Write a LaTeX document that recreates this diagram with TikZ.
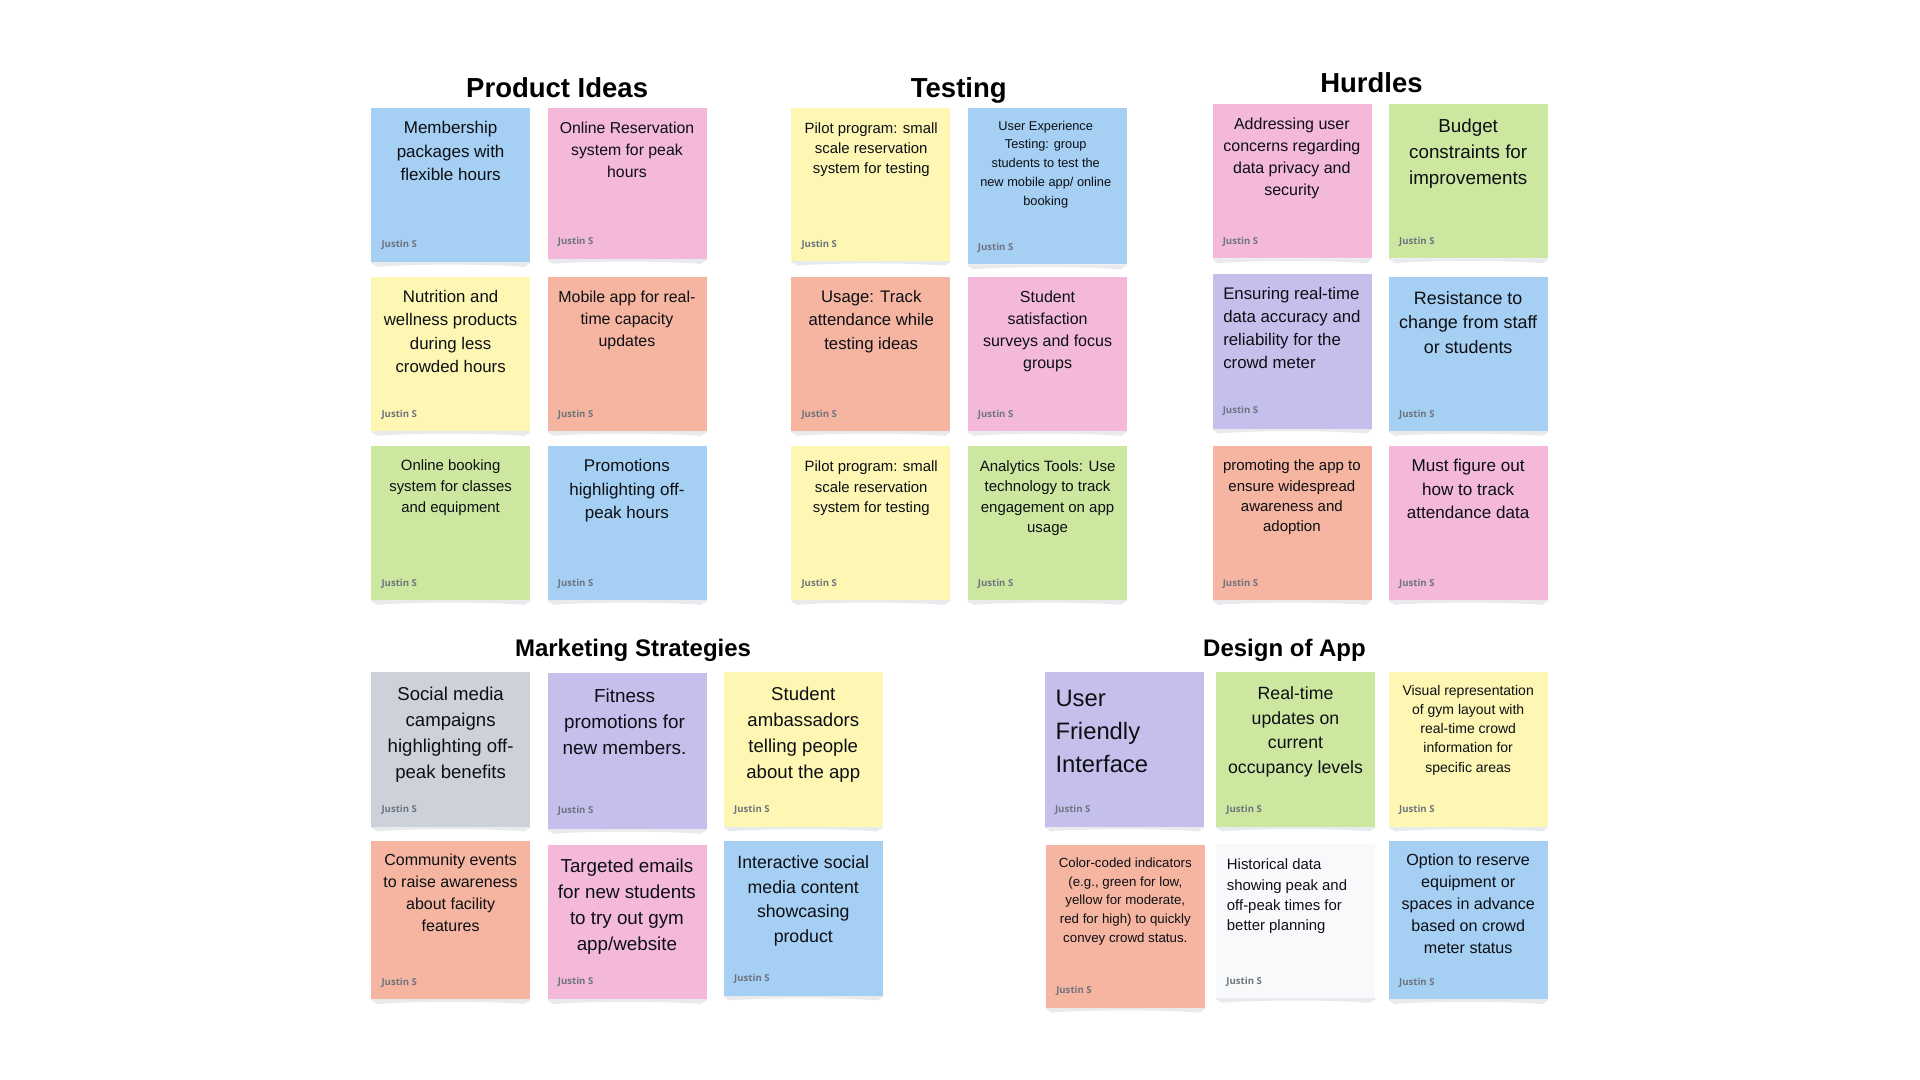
\documentclass[tikz,border=0pt]{standalone}
\usepackage{fontspec}
\setmainfont{Liberation Sans}
\newfontfamily\sigfont{Open Sans}
\definecolor{nblue}{HTML}{A5CFF3}
\definecolor{npink}{HTML}{F3B8DA}
\definecolor{nyellow}{HTML}{FEF7B3}
\definecolor{norange}{HTML}{F5B5A1}
\definecolor{ngreen}{HTML}{CCE8A0}
\definecolor{npurple}{HTML}{C5BFEC}
\definecolor{ngray}{HTML}{CDD2DA}
\definecolor{nwhite}{HTML}{F8F9FB}
\definecolor{nshadow}{HTML}{E8EAED}
\definecolor{ntext}{HTML}{0D0F14}
\definecolor{nsig}{HTML}{6E747F}
\tikzset{
  x=1.22449pt,y=-1.22449pt,
  notebody/.style={inner sep=0pt,outer sep=0pt,anchor=north west},
  notecopy/.style={inner sep=0pt,outer sep=0pt,text=ntext},
  notesig/.style={inner sep=0pt,outer sep=0pt,anchor=west,text=nsig,font=\sigfont\bfseries\fontsize{9.6}{11}\selectfont},
  heading/.style={inner sep=0pt,outer sep=0pt,text=black,font=\bfseries\fontsize{#1}{#1}\selectfont},
}
\newcommand{\linetop}{\rule{0pt}{.8em}}
\newcommand{\linebot}{\rule[-.3em]{0pt}{.3em}}
% id, x, y top, y bottom, colour, signature y
\newcommand{\notebox}[6]{%
  \fill[nshadow] (#2+.2,#4) -- (#2+130.2,#4) -- (#2+130.2,#4+1) -- (#2+125.2,#4+4)
     .. controls (#2+100,#4+1.5) and (#2+30,#4+1.5) .. (#2+5.2,#4+4) -- (#2+.2,#4+1) -- cycle;
  \pgfmathsetmacro{\nh}{(#4-(#3))*1.22449}
  \node[notebody,fill=#5,minimum width=159.18pt,minimum height=\nh pt] (#1) at (#2+.2,#3) {};
  \node[notesig] (#1-sig) at (#2+8.6,#6+.6) {Justin S};
}
% id, x, y, size, leading, text
\newcommand{\notemid}[6]{%
  \node[notecopy,align=center,font=\fontsize{#4}{#5}\selectfont] (#1-t) at (#2,#3+1.8) {\linetop#6\linebot};
}
\newcommand{\noteleft}[6]{%
  \node[notecopy,align=left,anchor=west,font=\fontsize{#4}{#5}\selectfont] (#1-t) at (#2,#3+1.8) {\linetop#6\linebot};
}
\begin{document}
\begin{tikzpicture}
\useasboundingbox (0,0) rectangle (1568,882);
\fill[white] (0,0) rectangle (1568,882);
\node[heading=27.5] (h1) at (455,72) {Product Ideas};
\node[heading=27.5] (h2) at (783,73.5) {Testing};
\node[heading=27.5] (h3) at (1120,67.7) {Hurdles};
\node[heading=24] (h4) at (517,531.5) {Marketing Strategies};
\node[heading=24] (h5) at (1049,531.5) {Design of App};

\notebox{a1}{303}{88}{214}{nblue}{199}
\notemid{a1}{368}{123}{17}{23.3}{Membership\\packages with\\flexible hours}
\notebox{a2}{447}{88}{211.5}{npink}{197}
\notemid{a2}{512}{122}{15.8}{22}{Online Reservation\\system for peak\\hours}
\notebox{a3}{303}{226}{352}{nyellow}{338}
\notemid{a3}{368}{270.5}{16.8}{23.3}{Nutrition and\\wellness products\\during less\\crowded hours}
\notebox{a4}{447}{226}{352}{norange}{338}
\notemid{a4}{512}{260}{15.9}{22}{Mobile app for real-\\time capacity\\updates}
\notebox{a5}{303}{364}{490}{ngreen}{476}
\notemid{a5}{368}{396.5}{14.9}{20.8}{Online booking\\system for classes\\and equipment}
\notebox{a6}{447}{364}{490}{nblue}{476}
\notemid{a6}{512}{399}{17}{23.3}{Promotions\\highlighting off-\\peak hours}

\notebox{b1}{646}{88}{213}{nyellow}{199}
\notemid{b1}{711.5}{120.5}{14.9}{20.3}{Pilot program: small\\scale reservation\\system for testing}
\notebox{b2}{790}{88}{216}{nblue}{202}
\notemid{b2}{854}{132.5}{12.8}{18.7}{User Experience\\Testing: group\\students to test the\\new mobile app/ online\\booking}
\notebox{b3}{646}{226}{352}{norange}{338}
\notemid{b3}{711.5}{261}{16.7}{23.3}{Usage: Track\\attendance while\\testing ideas}
\notebox{b4}{790}{226}{352}{npink}{338}
\notemid{b4}{855.5}{269}{16}{22}{Student\\satisfaction\\surveys and focus\\groups}
\notebox{b5}{646}{364}{490}{nyellow}{476}
\notemid{b5}{711.5}{397}{14.9}{20.3}{Pilot program: small\\scale reservation\\system for testing}
\notebox{b6}{790}{364}{490}{ngreen}{476}
\notemid{b6}{855.5}{405}{15}{20.3}{Analytics Tools: Use\\technology to track\\engagement on app\\usage}

\notebox{c1}{990}{85}{211}{npink}{197}
\notemid{c1}{1055}{128}{16}{22}{Addressing user\\concerns regarding\\data privacy and\\security}
\notebox{c2}{1134}{85}{211}{ngreen}{197}
\notemid{c2}{1199}{123.5}{18.8}{26}{Budget\\constraints for\\improvements}
\notebox{c3}{990}{224}{350}{npurple}{335}
\noteleft{c3}{999}{267.5}{16.8}{23.3}{Ensuring real-time\\data accuracy and\\reliability for the\\crowd meter}
\notebox{c4}{1134}{226}{352}{nblue}{338}
\notemid{c4}{1199}{263}{17.9}{24.5}{Resistance to\\change from staff\\or students}
\notebox{c5}{990}{364}{490}{norange}{476}
\notemid{c5}{1055}{404.5}{15}{20.3}{promoting the app to\\ensure widespread\\awareness and\\adoption}
\notebox{c6}{1134}{364}{490}{npink}{476}
\notemid{c6}{1199}{399}{17.1}{23.3}{Must figure out\\how to track\\attendance data}

\notebox{d1}{303}{549}{675}{ngray}{660.5}
\notemid{d1}{368}{598}{18.6}{26}{Social media\\campaigns\\highlighting off-\\peak benefits}
\notebox{d2}{447}{550}{677}{npurple}{662}
\notemid{d2}{510}{589}{18.9}{26}{Fitness\\promotions for\\new members.}
\notebox{d3}{591}{549}{675}{nyellow}{660.5}
\notemid{d3}{656}{598}{18.6}{26}{Student\\ambassadors\\telling people\\about the app}
\notebox{d4}{303}{687}{816}{norange}{802}
\notemid{d4}{368}{729}{16}{22}{Community events\\to raise awareness\\about facility\\features}
\notebox{d5}{447}{690}{816}{npink}{801}
\notemid{d5}{512}{739}{18.8}{26}{Targeted emails\\for new students\\to try out gym\\app/website}
\notebox{d6}{591}{687}{813}{nblue}{799}
\notemid{d6}{656}{734}{17.7}{24.5}{Interactive social\\media content\\showcasing\\product}

\notebox{e1}{853}{549}{675}{npurple}{660.5}
\noteleft{e1}{862}{597}{23.8}{33}{User\\Friendly\\Interface}
\notebox{e2}{993}{549}{675}{ngreen}{660.5}
\notemid{e2}{1058}{596}{17.7}{24.5}{Real-time\\updates on\\current\\occupancy levels}
\notebox{e3}{1134}{549}{675}{nyellow}{660.5}
\notemid{e3}{1199}{594.5}{14}{19.2}{Visual representation\\of gym layout with\\real-time crowd\\information for\\specific areas}
\notebox{e4}{854}{690}{823}{norange}{809}
\notemid{e4}{919}{734.5}{13.3}{18.7}{Color-coded indicators\\(e.g., green for low,\\yellow for moderate,\\red for high) to quickly\\convey crowd status.}
\notebox{e5}{993}{689}{815}{nwhite}{801}
\noteleft{e5}{1002}{730.5}{14.9}{20.3}{Historical data\\showing peak and\\off-peak times for\\better planning}
\notebox{e6}{1134}{687}{816}{nblue}{802}
\notemid{e6}{1199}{738}{16.1}{22}{Option to reserve\\equipment or\\spaces in advance\\based on crowd\\meter status}
\end{tikzpicture}
\end{document}
